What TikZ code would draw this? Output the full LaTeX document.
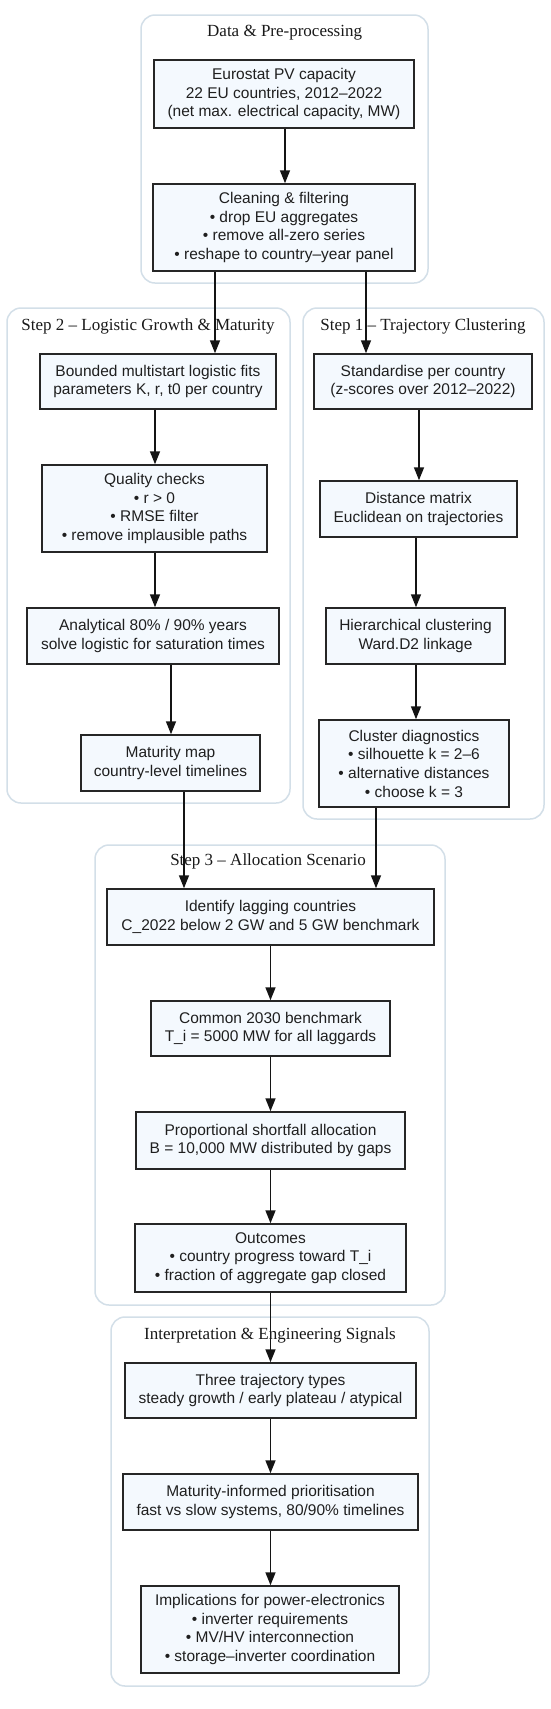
\documentclass[tikz,border=0pt]{standalone}
\usepackage{fontspec}
\setmainfont{Liberation Serif}
\newfontfamily\bodyfont{Liberation Sans}
\usetikzlibrary{arrows.meta}
\definecolor{boxfill}{HTML}{F4F9FE}
\definecolor{clusterline}{HTML}{D3DFE8}
\definecolor{boxline}{HTML}{262626}
\begin{document}
\begin{tikzpicture}[x=1pt,y=-1pt,
  stepbox/.style={draw=boxline, fill=boxfill, line width=1.5pt, inner sep=0pt,
    align=center, font=\bodyfont\fontsize{15.5}{18.7}\selectfont, text=black!88},
  grp/.style={draw=clusterline, line width=1.5pt, rounded corners=14pt},
  grptitle/.style={anchor=base, font=\fontsize{17}{20}\selectfont, inner sep=0pt, text=black!90},
  arr/.style={draw=black!92, line width=1.5pt, -{Triangle[length=13pt,width=10pt]}}]
\useasboundingbox (0,0) rectangle (550,1709);
\fill[white] (0,0) rectangle (550,1709);

% clusters
\draw[grp] (141,15) rectangle (428,283);
\draw[grp] (7,308) rectangle (290,803);
\draw[grp] (303,308) rectangle (544,819);
\draw[grp] (95,845) rectangle (445,1305);
\draw[grp] (111,1317) rectangle (429,1686);

% cluster titles
\node[grptitle] (tdata) at (284.6,36) {Data \& Pre-processing};
\node[grptitle] (tstep2) at (148,330) {Step 2 – Logistic Growth \& Maturity};
\node[grptitle] (tstep1) at (423,330) {Step 1 – Trajectory Clustering};
\node[grptitle] (tstep3) at (268,865) {Step 3 – Allocation Scenario};
\node[grptitle] (tinterp) at (270,1339) {Interpretation \& Engineering Signals};

% boxes
\node[stepbox, minimum width=260pt, minimum height=68pt] (euro) at (284,94)
  {Eurostat PV capacity\\22 EU countries, 2012–2022\\(net max. electrical capacity, MW)};
\node[stepbox, minimum width=262pt, minimum height=87pt] (clean) at (284,227.5)
  {Cleaning \& filtering\\• drop EU aggregates\\• remove all-zero series\\• reshape to country–year panel};
\node[stepbox, minimum width=236pt, minimum height=55pt] (bound) at (158,381.5)
  {Bounded multistart logistic fits\\parameters K, r, t0 per country};
\node[stepbox, minimum width=225pt, minimum height=87pt] (qual) at (154.5,508.5)
  {Quality checks\\• r > 0\\• RMSE filter\\• remove implausible paths};
\node[stepbox, minimum width=252pt, minimum height=56pt] (anal) at (153,636)
  {Analytical 80\% / 90\% years\\solve logistic for saturation times};
\node[stepbox, minimum width=179pt, minimum height=56pt] (mat) at (170.5,763)
  {Maturity map\\country-level timelines};
\node[stepbox, minimum width=218pt, minimum height=55pt] (std) at (423,381.5)
  {Standardise per country\\(z-scores over 2012–2022)};
\node[stepbox, minimum width=197pt, minimum height=56pt] (dist) at (418.5,509)
  {Distance matrix\\Euclidean on trajectories};
\node[stepbox, minimum width=179pt, minimum height=56pt] (hier) at (415.5,636)
  {Hierarchical clustering\\Ward.D2 linkage};
\node[stepbox, minimum width=190pt, minimum height=87pt] (diag) at (414,763.5)
  {Cluster diagnostics\\• silhouette k = 2–6\\• alternative distances\\• choose k = 3};
\node[stepbox, minimum width=327pt, minimum height=56pt] (ident) at (270.5,917)
  {Identify lagging countries\\C\_2022 below 2 GW and 5 GW benchmark};
\node[stepbox, minimum width=239pt, minimum height=55pt] (common) at (270.5,1028.5)
  {Common 2030 benchmark\\T\_i = 5000 MW for all laggards};
\node[stepbox, minimum width=269pt, minimum height=57pt] (prop) at (270.5,1140.5)
  {Proportional shortfall allocation\\B = 10,000 MW distributed by gaps};
\node[stepbox, minimum width=271pt, minimum height=68pt] (outc) at (270.5,1258)
  {Outcomes\\• country progress toward T\_i\\• fraction of aggregate gap closed};
\node[stepbox, minimum width=291pt, minimum height=55pt] (three) at (270.5,1390.5)
  {Three trajectory types\\steady growth / early plateau / atypical};
\node[stepbox, minimum width=295pt, minimum height=56pt] (matinf) at (270.5,1502)
  {Maturity-informed prioritisation\\fast vs slow systems, 80/90\% timelines};
\node[stepbox, minimum width=258pt, minimum height=87pt] (impl) at (270,1629.5)
  {Implications for power-electronics\\• inverter requirements\\• MV/HV interconnection\\• storage–inverter coordination};

% edge x positions
\coordinate (xe) at (285,0);
\coordinate (xl) at (215,0);
\coordinate (xr) at (366,0);
\coordinate (xq) at (155,0);
\coordinate (xm) at (171,0);
\coordinate (xmo) at (184,0);
\coordinate (xs) at (419,0);
\coordinate (xh) at (416,0);
\coordinate (xdo) at (376,0);
\coordinate (xc) at (270.5,0);

% edges
\draw[arr] (euro.south -| xe) -- (clean.north -| xe);
\draw[arr] (clean.south -| xl) -- (bound.north -| xl);
\draw[arr] (clean.south -| xr) -- (std.north -| xr);
\draw[arr] (bound.south -| xq) -- (qual.north -| xq);
\draw[arr] (qual.south -| xq) -- (anal.north -| xq);
\draw[arr] (anal.south -| xm) -- (mat.north -| xm);
\draw[arr] (mat.south -| xmo) -- (ident.north -| xmo);
\draw[arr] (std.south -| xs) -- (dist.north -| xs);
\draw[arr] (dist.south -| xh) -- (hier.north -| xh);
\draw[arr] (hier.south -| xh) -- (diag.north -| xh);
\draw[arr] (diag.south -| xdo) -- (ident.north -| xdo);
\draw[arr] (ident.south -| xc) -- (common.north -| xc);
\draw[arr] (common.south -| xc) -- (prop.north -| xc);
\draw[arr] (prop.south -| xc) -- (outc.north -| xc);
\draw[arr] (outc.south -| xc) -- (three.north -| xc);
\draw[arr] (three.south -| xc) -- (matinf.north -| xc);
\draw[arr] (matinf.south -| xc) -- (impl.north -| xc);
\end{tikzpicture}
\end{document}
